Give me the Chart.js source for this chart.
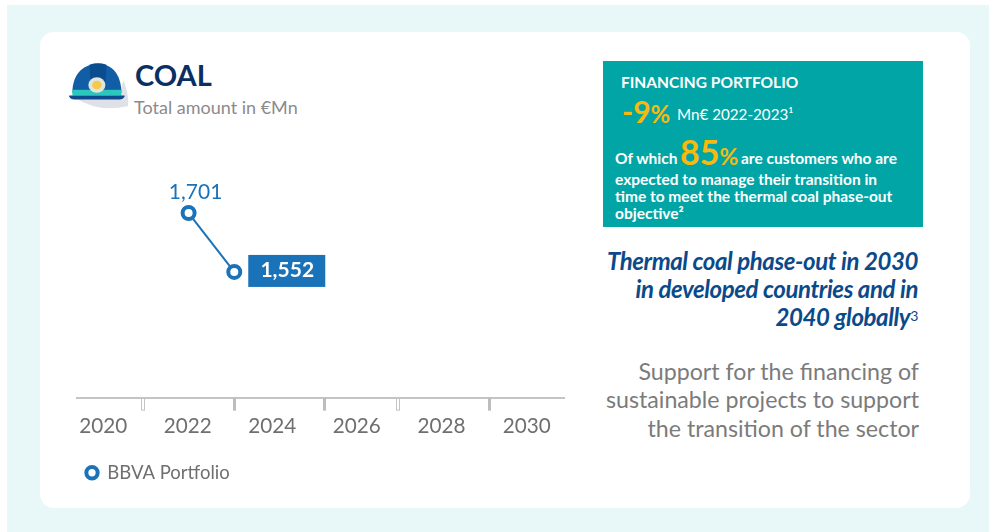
<!DOCTYPE html>
<html>
<head>
<meta charset="utf-8">
<title>Coal</title>
<script src="https://cdn.jsdelivr.net/npm/chart.js@4/dist/chart.umd.min.js"></script>
<style>
html,body{margin:0;padding:0;background:#fff;}
#page{position:relative;width:989px;height:532px;overflow:hidden;font-family:Lato,sans-serif;}
#bg{position:absolute;left:7px;top:5px;right:0;bottom:0;background:#e8f8f8;}
#card{position:absolute;left:40px;top:32px;width:930px;height:476px;background:#fff;border-radius:14px;}
canvas{position:absolute;left:0;top:0;}
.t{position:absolute;white-space:nowrap;line-height:1;}
.r{right:70px;text-align:right;}
#box{position:absolute;left:603px;top:61px;width:320px;height:166px;background:#02a5a5;}
.w{color:#fff;font-weight:700;font-size:15.5px;}
.y{color:#f8b90d;font-weight:700;}
.head{color:#0b4a8a;font-weight:700;font-style:italic;font-size:24px;letter-spacing:-.4px;right:71px;}
.sub{color:#7b7b7b;font-size:23.2px;}
</style>
</head>
<body>
<div id="page">
  <div id="bg"></div>
  <div id="card"></div>
  <svg style="position:absolute;left:66px;top:59px" width="66" height="52" viewBox="0 0 62 54" preserveAspectRatio="none">
    <path d="M8 40 Q30 56 58 49 Q60 40 54 22 L50 38Z" fill="#dfe1e8"/>
    <path d="M6 35 C6 14 18 5 30 5 C43 5 52 16 52 35Z" fill="#125ea6"/>
    <path d="M22 6 Q30 3 38 6 L37 24 L23 24Z" fill="#0a4c8e"/>
    <rect x="6" y="32" width="46" height="6" fill="#2bc6bd"/>
    <path d="M3 38 H55 V39 Q54 42 50 42 H8 Q4 42 3 39Z" fill="#0f4a8c"/>
    <circle cx="29" cy="27" r="8" fill="#dfe6df"/>
    <circle cx="29" cy="27" r="4.5" fill="#f6c84b"/>
  </svg>
  <div class="t" style="left:135px;top:60px;font-size:29px;font-weight:700;color:#0a2f63">COAL</div>
  <div class="t" style="left:134px;top:98px;font-size:18px;color:#8b8b8b">Total amount in €Mn</div>

  <div id="box"></div>
  <div class="t w" style="left:621px;top:75px">FINANCING PORTFOLIO</div>
  <div class="t y" style="left:622px;top:96px;font-size:30px">-9<span style="font-size:24px">%</span></div>
  <div class="t" style="left:677px;top:107px;font-size:15.2px;color:#fff">Mn€ 2022-2023¹</div>
  <div class="t w" style="left:615px;top:151px">Of which</div>
  <div class="t y" style="left:680px;top:135px;font-size:34px">85<span style="font-size:23px">%</span></div>
  <div class="t w" style="left:741px;top:151px">are customers who are</div>
  <div class="t w" style="left:615px;top:172px">expected to manage their transition in</div>
  <div class="t w" style="left:615px;top:189px">time to meet the thermal coal phase-out</div>
  <div class="t w" style="left:615px;top:206px">objective²</div>

  <div class="t r head" style="top:249px">Thermal coal phase-out in 2030</div>
  <div class="t r head" style="top:277px">in developed countries and in</div>
  <div class="t r head" style="top:305px">2040 globally<span style="font-weight:400;font-style:normal;font-size:14px;position:relative;top:-5px">3</span></div>

  <div class="t r sub" style="top:360px">Support for the financing of</div>
  <div class="t r sub" style="top:388px">sustainable projects to support</div>
  <div class="t r sub" style="top:417px">the transition of the sector</div>

  <canvas id="chart" width="989" height="532"></canvas>
</div>

<script>
// values
const seriesName = 'BBVA Portfolio';
const years = [2022.02, 2023.1];
const portfolio = [1701, 1552];
const tickLabels = [2020, 2022, 2024, 2026, 2028, 2030.02];
const solidMarks = [2023.12, 2025.25, 2029.15];
const hollowMarks = [2020.95, 2026.97];

const blue = '#1a73b9';

// tick marks on the axis don't line up with the year labels in the source
const axisMarks = {
    id: 'axisMarks',
    afterDraw(chart) {
        const {ctx, scales: {x}} = chart;
        const y0 = x.top;
        ctx.save();
        ctx.fillStyle = '#bdbdbd';
        ctx.strokeStyle = '#c4c4c4';
        solidMarks.forEach(v => ctx.fillRect(Math.round(x.getPixelForValue(v)) - 2, y0, 3, 13));
        ctx.lineWidth = 1;
        hollowMarks.forEach(v => ctx.strokeRect(Math.round(x.getPixelForValue(v)) - 1.5, y0 + .5, 3, 12));
        ctx.restore();
    }
};

const valueLabels = {
    id: 'valueLabels',
    afterDatasetsDraw(chart) {
        const {ctx} = chart;
        const pts = chart.getDatasetMeta(0).data;
        ctx.save();
        ctx.font = '21px Lato';
        ctx.textAlign = 'center';
        ctx.textBaseline = 'middle';
        ctx.fillStyle = blue;
        ctx.fillText(portfolio[0].toLocaleString('en-US'), pts[0].x + 7, pts[0].y - 21);
        ctx.fillRect(pts[1].x + 14, pts[1].y - 17, 77, 32);
        ctx.fillStyle = '#fff';
        ctx.font = 'bold 21px Lato';
        ctx.fillText(portfolio[1].toLocaleString('en-US'), pts[1].x + 53, pts[1].y - 2);
        ctx.restore();
    }
};

new Chart(document.getElementById('chart'), {
    type: 'line',
    data: {
        datasets: [{
            label: seriesName,
            data: years.map((y, i) => ({x: y, y: portfolio[i]})),
            borderColor: blue,
            borderWidth: 2,
            backgroundColor: '#fff',
            pointRadius: 6,
            pointBorderWidth: 4,
            pointBorderColor: blue,
            pointBackgroundColor: '#fff',
            tension: 0
        }]
    },
    options: {
        responsive: false,
        animation: false,
        layout: {padding: {left: 77, right: 425, top: 130, bottom: 40}},
        scales: {
            x: {
                type: 'linear',
                min: 2019.38,
                max: 2030.9,
                afterBuildTicks: axis => { axis.ticks = tickLabels.map(v => ({value: v})); },
                grid: {drawOnChartArea: false, drawTicks: false},
                border: {color: '#c4c4c4', width: 2},
                ticks: {
                    color: '#6f6f6f',
                    font: {family: 'Lato', size: 20.7},
                    padding: 16,
                    autoSkip: false,
                    maxRotation: 0,
                    callback: v => String(Math.floor(v))
                }
            },
            y: {display: false, min: 1234, max: 1911}
        },
        plugins: {
            tooltip: {enabled: false},
            legend: {
                position: 'bottom',
                align: 'start',
                labels: {
                    usePointStyle: true,
                    pointStyle: 'circle',
                    boxHeight: 8,
                    boxWidth: 12,
                    color: '#6f6f6f',
                    font: {family: 'Lato', size: 18.5},
                    padding: 9,
                    generateLabels(chart) {
                        const items = Chart.defaults.plugins.legend.labels.generateLabels(chart);
                        items.forEach(it => { it.lineWidth = 4; });
                        return items;
                    }
                }
            }
        }
    },
    plugins: [axisMarks, valueLabels]
});
</script>
</body>
</html>
